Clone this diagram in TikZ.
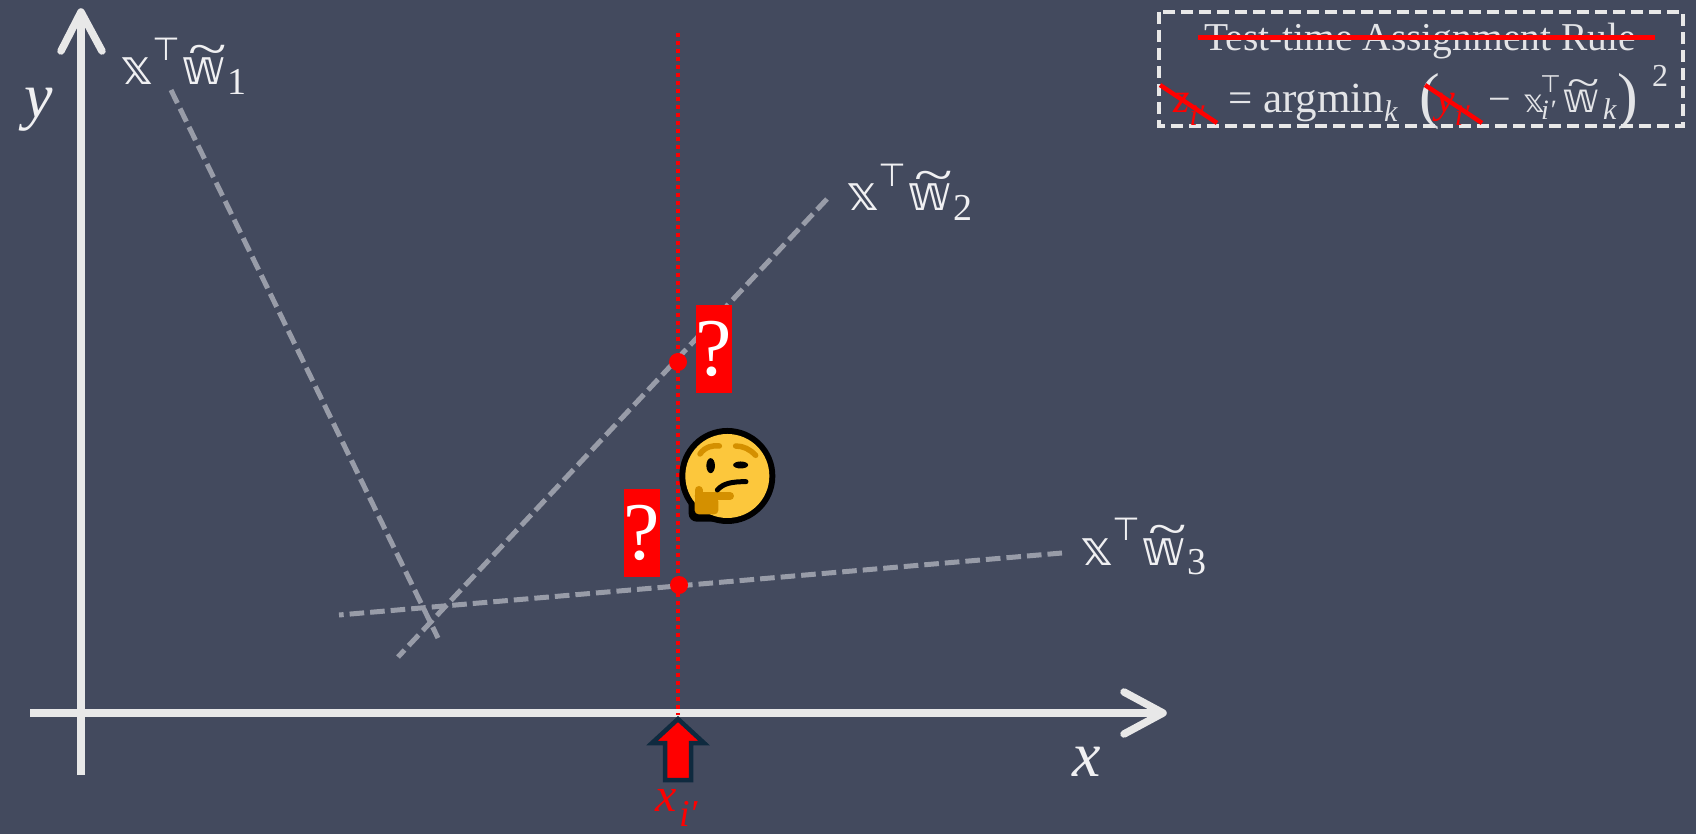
\documentclass[tikz,border=0pt]{standalone}
\usepackage{fontspec}
\usepackage{graphicx}
\setmainfont{Liberation Serif}
\newfontfamily\ddfont{DejaVu Sans}
\usetikzlibrary{calc}
\definecolor{bg}{HTML}{434A5E}
\definecolor{axisc}{HTML}{E8E8E8}
\definecolor{grayl}{HTML}{989CA8}
\definecolor{redc}{HTML}{FF0000}
\definecolor{navy}{HTML}{0F2A3F}
\definecolor{emoY}{HTML}{FCC73C}
\definecolor{emoH}{HTML}{D49000}
\newcommand{\wtil}[1]{\leavevmode\rlap{\kern.14em\raisebox{.40em}{\scalebox{1.45}[1]{\fontsize{#1pt}{#1pt}\selectfont\char"7E}}}{\ddfont 𝕨}}
\newcommand{\linelab}[1]{\fontsize{49}{49}\selectfont{\ddfont 𝕩}\raisebox{.5em}{\kern-.02em\ddfont\fontsize{32}{32}\selectfont ⊤}\kern.02em\wtil{49}\raisebox{-.2em}{\fontsize{38}{38}\selectfont\kern.04em #1}}
\tikzset{
  axisline/.style={draw=axisc,line width=7.5pt,line cap=round,line join=round},
  fitline/.style={draw=grayl,line width=5pt,dash pattern=on 14.6pt off 6pt},
  hitdot/.style={circle,fill=redc,inner sep=0pt,minimum size=18pt},
  qbox/.style={fill=redc,text=white,minimum width=36pt,minimum height=88pt,inner sep=0pt,font=\fontsize{82}{82}\selectfont},
  lab/.style={text=white!92!bg,anchor=base west,inner sep=0pt},
  strike/.style={draw=redc,line width=4.5pt},
  mathit/.style={text=white!92!bg,inner sep=0pt,font=\fontsize{64}{64}\selectfont\itshape}
}
\begin{document}
\begin{tikzpicture}[x=1pt,y=-1pt]
\path[use as bounding box,fill=bg] (0,0) rectangle (1696,834);
% axes
\coordinate (ys) at (81,775); \coordinate (ye) at (81,12);
\coordinate (yl) at (61,51); \coordinate (yr) at (102,51);
\draw[axisline,line cap=butt] (ys) -- (ye);
\draw[axisline] (yl) -- (ye) -- (yr);
\coordinate (xs) at (30,713); \coordinate (xe) at (1163,713);
\coordinate (xl) at (1124,692); \coordinate (xr) at (1124,734);
\draw[axisline,line cap=butt] (xs) -- (xe);
\draw[axisline] (xl) -- (xe) -- (xr);
\node[mathit] (ylab) at (39,110) {y};
\node[mathit] (xlab) at (1087,762) {x};
% fit lines
\coordinate (a1) at (171,90); \coordinate (a2) at (438,638);
\coordinate (b1) at (827,199); \coordinate (b2) at (398,657);
\coordinate (c1) at (1062,553); \coordinate (c2) at (339,615);
\draw[fitline] (a1) -- (a2);
\draw[fitline] (b1) -- (b2);
\draw[fitline] (c1) -- (c2);
% labels
\node[lab] (l1) at (120,85) {\linelab{1}};
\node[lab] (l2) at (846,211) {\linelab{2}};
\node[lab] (l3) at (1080,565) {\linelab{3}};
% test point line
\coordinate (vt) at (678,33); \coordinate (vb) at (678,715);
\draw[draw=redc,line width=3.5pt,dash pattern=on 4pt off 4pt] (vt) -- (vb);
\node[hitdot] (d1) at (678,362) {};
\node[hitdot] (d2) at (679,585) {};
\node[qbox] (q1) at (714,349) {\makebox[0pt]{?}};
\node[qbox] (q2) at (642,533) {\makebox[0pt]{?}};
% up arrow
\draw[fill=redc,draw=navy,line width=4.5pt,miter limit=10]
  (678,719) -- (652,743) -- (665,743) -- (665,780) -- (691,780) -- (691,743) -- (704,743) -- cycle;
\node[inner sep=0pt,text=redc,font=\fontsize{48}{48}\selectfont\itshape] (xi) at (677,808) {x\raisebox{-.3em}{\fontsize{38}{38}\selectfont\kern.05em i′}};
% emoji
\begin{scope}[shift={(610,290)},x=0.3333pt,y=-0.3333pt]
  \fill[black] (352,558) circle[radius=48pt];
  \fill[black,rounded corners=8pt] (236,590) rectangle (340,695);
  \fill[emoY] (352,558) circle[radius=42pt];
  \fill[emoH,rounded corners=4pt] (254,622) rectangle (325,673);
  \draw[emoH,line width=8pt,line cap=round] (266,600) -- (266,640);
  \draw[emoH,line width=8pt,line cap=round] (266,618) -- (360,618);
  \draw[emoH,line width=5.5pt,line cap=round] (270,492) .. controls (285,470) and (310,465) .. (328,468);
  \draw[emoH,line width=5.5pt,line cap=round] (377,468) .. controls (400,468) and (420,478) .. (437,496);
  \fill[black] (302,527) ellipse[x radius=4.3pt,y radius=7.5pt];
  \fill[black] (392,525) ellipse[x radius=7.5pt,y radius=3.5pt];
  \draw[black,line width=5pt,line cap=round] (322,600) .. controls (340,580) and (365,575) .. (408,575);
\end{scope}
% rule box
\coordinate (ba) at (1159,12); \coordinate (bb) at (1683,126);
\draw[draw=axisc,line width=3.2pt,dash pattern=on 12pt off 6pt] (ba) rectangle (bb);
\node[text=white!85!bg,inner sep=0pt,font=\fontsize{39.5}{40}\selectfont] (title) at (1420,41) {Test-time Assignment Rule};
\coordinate (s1) at (1198,37.5); \coordinate (s2) at (1655,37.5);
\draw[strike] (s1) -- (s2);
\node[lab,text=white!85!bg,font=\fontsize{43}{43}\selectfont] (rule) at (1228,113) {= argmin\raisebox{-.2em}{\fontsize{30}{30}\selectfont\itshape k}};
\node[inner sep=0pt,text=white!85!bg,font=\fontsize{62}{62}\selectfont] (lp) at (1430,102) {(};
\node[inner sep=0pt,text=white!85!bg,font=\fontsize{62}{62}\selectfont] (rp) at (1628,102) {)};
\node[lab,text=white!85!bg,font=\fontsize{32}{32}\selectfont] (sq) at (1652,87) {2};
\node[lab,text=redc,font=\fontsize{42}{42}\selectfont\itshape] (zi) at (1173,113) {z\raisebox{-.3em}{\fontsize{30}{30}\selectfont i′}};
\node[lab,text=redc,font=\fontsize{42}{42}\selectfont\itshape] (yi) at (1436,113) {y\raisebox{-.3em}{\fontsize{30}{30}\selectfont i′}};
\node[lab,text=white!85!bg,font=\fontsize{40}{40}\selectfont] (minus) at (1488,113) {−};
\node[lab,text=white!85!bg] (termx) at (1523,113) {\fontsize{32}{32}\selectfont\ddfont 𝕩};
\node[lab,text=white!85!bg] (termt) at (1540,93) {\fontsize{24}{24}\selectfont\ddfont ⊤};
\node[lab,text=white!85!bg] (termi) at (1541,120) {\fontsize{28}{28}\selectfont\itshape i′};
\node[lab,text=white!85!bg] (termw) at (1562,113) {\fontsize{41}{41}\selectfont\wtil{41}};
\node[lab,text=white!85!bg] (termk) at (1603,120) {\fontsize{30}{30}\selectfont\itshape k};
\coordinate (z1) at (1160,85); \coordinate (z2) at (1217,123);
\coordinate (y1) at (1425,85); \coordinate (y2) at (1482,123);
\draw[strike] (z1) -- (z2);
\draw[strike] (y1) -- (y2);
\end{tikzpicture}
\end{document}
